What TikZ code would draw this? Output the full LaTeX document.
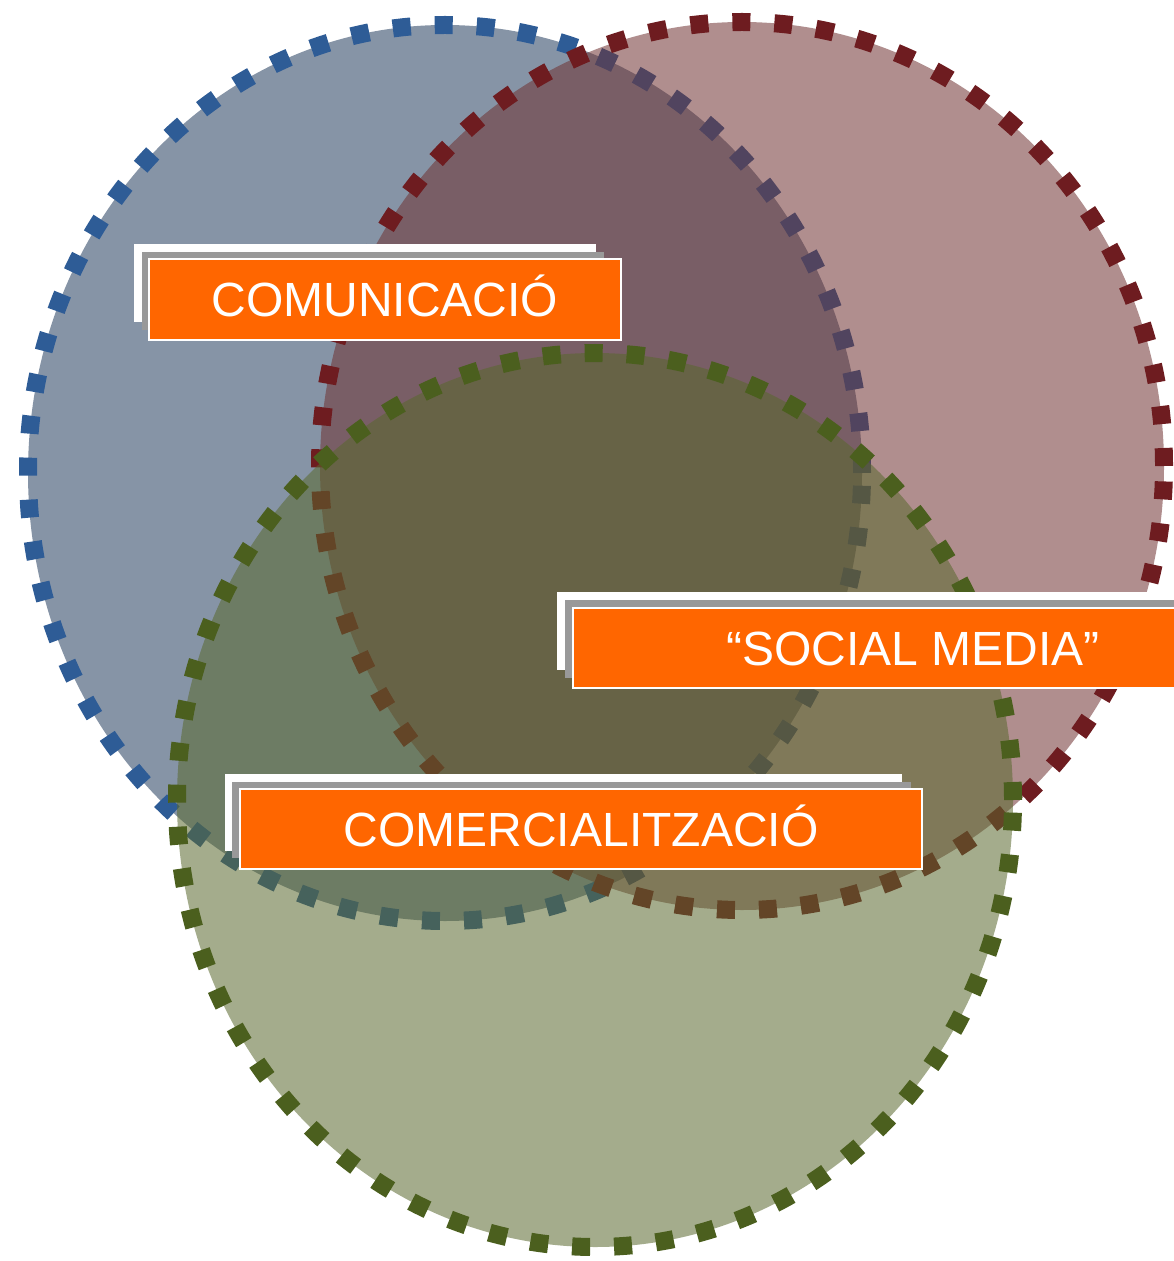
\documentclass[tikz,border=0pt]{standalone}
\usepackage{fontspec}
\setmainfont{Liberation Sans}
\usepackage{tikz}

\definecolor{comline}{RGB}{46,92,150}
\definecolor{comfill}{RGB}{35,60,93}
\definecolor{socline}{RGB}{110,28,32}
\definecolor{socfill}{RGB}{111,50,50}
\definecolor{merline}{RGB}{75,95,30}
\definecolor{merfill}{RGB}{90,104,46}
\definecolor{tagorange}{RGB}{255,102,0}
\definecolor{tagshadow}{RGB}{153,153,153}

\begin{document}
\begin{tikzpicture}[x=0.5pt,y=-0.5pt,
        venn/.style={line width=9pt, dash pattern=on 9pt off 12pt, fill opacity=0.55},
        tagbox/.style={fill=tagorange, draw=white, line width=1pt},
        tagtext/.style={text=white, font=\fontsize{24}{28}\selectfont, text height=17pt, text depth=0pt, inner sep=0pt}]
        \useasboundingbox (0,0) rectangle (1173,1261);
        % the three sets
        \filldraw[venn, draw=comline, fill=comfill] (445,473) ellipse [x radius=208.5pt, y radius=224pt];
        \filldraw[venn, draw=socline, fill=socfill] (742,466) ellipse [x radius=211pt, y radius=222pt];
        \filldraw[venn, draw=merline, fill=merfill] (595,800) ellipse [x radius=209pt, y radius=223.5pt];
        % labels
        \fill[white] (134,244) rectangle (596,322);
        \fill[tagshadow] (142,252) rectangle (604,330);
        \filldraw[tagbox] (149,259) rectangle (621,340) node[midway,tagtext] (comunicacio) {COMUNICACIÓ};
        \fill[white] (557,592) rectangle (1240,670);
        \fill[tagshadow] (565,600) rectangle (1245,678);
        \filldraw[tagbox] (573,608) rectangle (1253,688) node[midway,tagtext] (socialmedia) {“SOCIAL MEDIA”};
        \fill[white] (225,774) rectangle (902,851);
        \fill[tagshadow] (232,782) rectangle (911,858);
        \filldraw[tagbox] (240,789) rectangle (922,869) node[midway,tagtext] (comercial) {COMERCIALITZACIÓ};
    \end{tikzpicture}
\end{document}
